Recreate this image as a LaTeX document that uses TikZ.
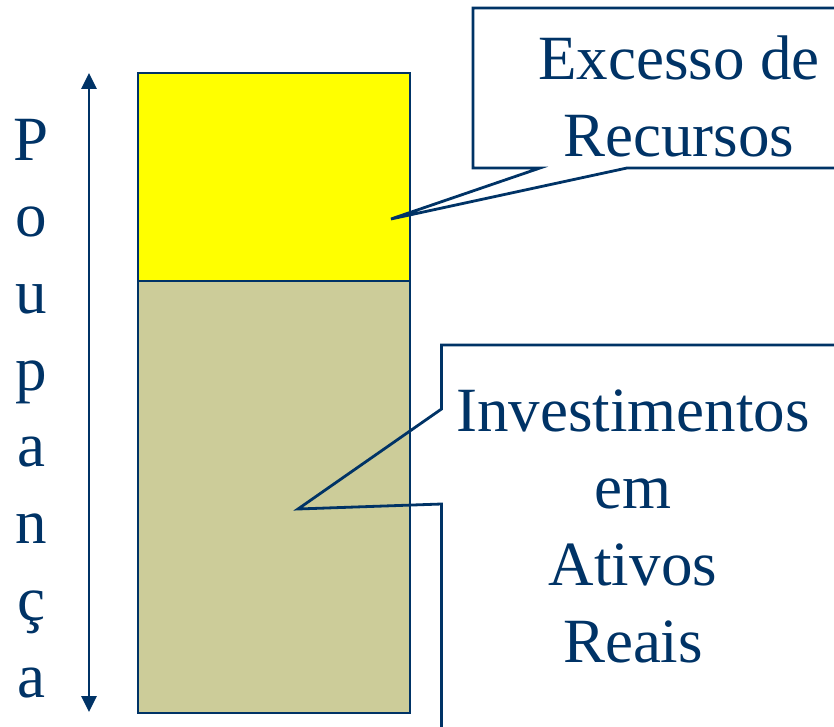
\documentclass[tikz,border=0pt]{standalone}
\usepackage{fontspec}
\setmainfont{Liberation Serif}
\usetikzlibrary{arrows.meta}
\definecolor{navy}{HTML}{003366}
\definecolor{khaki}{HTML}{CCCC99}
\definecolor{brightyellow}{RGB}{255,255,0}
\begin{document}
\begin{tikzpicture}[x=1pt,y=-1pt,line join=miter,
  block/.style={draw=navy,line width=2.4pt,inner sep=0pt,anchor=north west,minimum width=272pt},
  callout/.style={draw=navy,line width=2.8pt},
  lbl/.style={text=navy,font=\fontsize{63}{76.7}\selectfont,align=center,inner sep=0pt,anchor=base},
  span/.style={draw=navy,line width=2.8pt,{Triangle[width=15pt,length=16pt]}-{Triangle[width=15pt,length=16pt]}}]
\useasboundingbox (0,0) rectangle (834,727);
\clip (0,0) rectangle (834,727);
% bars
\node[block,fill=brightyellow,minimum height=208pt] (exc) at (137,72) {};
\node[block,fill=khaki,minimum height=432pt] (inv) at (137,280) {};
% double arrow
\coordinate (atop) at (89,73);
\coordinate (abot) at (89,712);
\draw[span] (atop) -- (abot);
% vertical word (anchor = baseline of last line)
\node[lbl] (pou) at (31,697) {P\\o\\u\\p\\a\\n\\ç\\a};
% callout 1
\coordinate (tip1) at (391,219);
\draw[callout] (473,8) -- (900,8) -- (900,168) -- (627,168) -- (tip1) -- (540,168) -- (473,168) -- cycle;
\node[lbl] (excl) at (679,156.7) {Excesso de\\Recursos};
% callout 2
\coordinate (tip2) at (298,509);
\draw[callout] (441.5,345) -- (900,345) -- (900,800) -- (441.5,800) -- (441.5,504) -- (tip2) -- (441.5,409) -- cycle;
\node[lbl] (invl) at (633,662) {Investimentos\\em\\Ativos\\Reais};
\end{tikzpicture}
\end{document}
